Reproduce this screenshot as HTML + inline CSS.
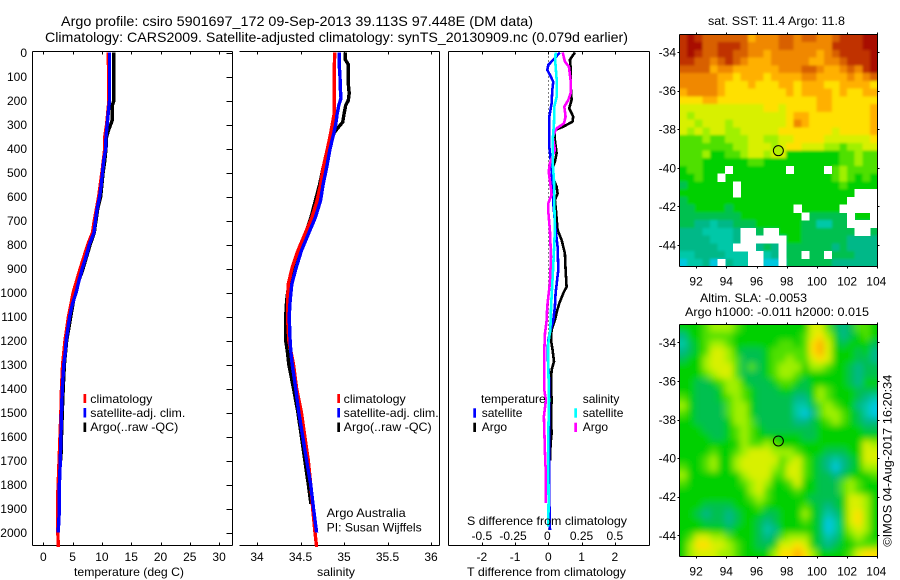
<!DOCTYPE html>
<html lang="en">
<head>
<meta charset="utf-8">
<title>Argo profile 5901697_172</title>
<style>
html,body{margin:0;padding:0;background:#fff;width:900px;height:580px;overflow:hidden}
svg{display:block}
text{font-family:"Liberation Sans",sans-serif;font-size:12px;fill:#000}
</style>
</head>
<body>
<svg id="chart" xmlns="http://www.w3.org/2000/svg" width="900" height="580" viewBox="0 0 900 580">
  <defs>
    <filter id="soften-sst" filterUnits="userSpaceOnUse" x="660" y="15" width="240" height="270"><feGaussianBlur stdDeviation="1.4"/></filter>
    <filter id="soften-sla" filterUnits="userSpaceOnUse" x="660" y="305" width="240" height="270"><feGaussianBlur stdDeviation="3.4"/></filter>
    <clipPath id="clip-sst"><rect x="679.5" y="34.5" width="198" height="232"/></clipPath>
    <clipPath id="clip-sla"><rect x="679.5" y="324.5" width="198" height="232"/></clipPath>
  </defs>
  <rect x="0" y="0" width="900" height="580" fill="#fff"/>
  <text x="61" y="26" style="font-size:14px" textLength="472" lengthAdjust="spacingAndGlyphs">Argo profile: csiro 5901697_172 09-Sep-2013 39.113S 97.448E (DM data)</text>
  <text x="45" y="42" style="font-size:14px" textLength="583" lengthAdjust="spacingAndGlyphs">Climatology: CARS2009. Satellite-adjusted climatology: synTS_20130909.nc (0.079d earlier)</text>

  <g id="temp-panel"></g>
  <g id="sal-panel"></g>
  <g id="diff-panel"></g>
  <g id="sst-map"></g>
  <g id="sla-map"></g>

  <text x="74" y="576" textLength="110" lengthAdjust="spacingAndGlyphs">temperature (deg C)</text>
  <text x="317" y="576" textLength="38" lengthAdjust="spacingAndGlyphs">salinity</text>
  <text x="467" y="576" textLength="159" lengthAdjust="spacingAndGlyphs">T difference from climatology</text>
  <text x="467" y="525" textLength="160" lengthAdjust="spacingAndGlyphs">S difference from climatology</text>

  <g>
    <rect x="83.5" y="394" width="2.7" height="9" fill="#f00"/>
    <text x="90.3" y="403" textLength="62" lengthAdjust="spacingAndGlyphs">climatology</text>
    <rect x="83.5" y="408" width="2.7" height="9.5" fill="#00f"/>
    <text x="90.3" y="417" textLength="95" lengthAdjust="spacingAndGlyphs">satellite-adj. clim.</text>
    <rect x="83.5" y="422.5" width="2.7" height="9.5" fill="#000"/>
    <text x="90.3" y="431" textLength="88" lengthAdjust="spacingAndGlyphs">Argo(..raw -QC)</text>
  </g>
  <g>
    <rect x="337.3" y="394" width="2.7" height="9" fill="#f00"/>
    <text x="343.7" y="403" textLength="62" lengthAdjust="spacingAndGlyphs">climatology</text>
    <rect x="337.3" y="408" width="2.7" height="9.5" fill="#00f"/>
    <text x="343.7" y="417" textLength="95" lengthAdjust="spacingAndGlyphs">satellite-adj. clim.</text>
    <rect x="337.3" y="422.5" width="2.7" height="9.5" fill="#000"/>
    <text x="343.7" y="431" textLength="88" lengthAdjust="spacingAndGlyphs">Argo(..raw -QC)</text>
  </g>
  <text x="326.7" y="517" textLength="79" lengthAdjust="spacingAndGlyphs">Argo Australia</text>
  <text x="326.7" y="531.7" textLength="95" lengthAdjust="spacingAndGlyphs">PI: Susan Wijffels</text>

  <g>
    <text x="481" y="403">temperature</text>
    <rect x="473.3" y="408.3" width="2.7" height="9.4" fill="#00f"/>
    <text x="481.7" y="417">satellite</text>
    <rect x="473.3" y="422.7" width="2.7" height="9.3" fill="#000"/>
    <text x="481.7" y="431">Argo</text>
    <text x="582.7" y="403">salinity</text>
    <rect x="574.3" y="408.3" width="2.7" height="9.4" fill="#0ff"/>
    <text x="582.7" y="417">satellite</text>
    <rect x="574.3" y="422.7" width="2.7" height="9.3" fill="#f0f"/>
    <text x="582.7" y="431">Argo</text>
  </g>

  <text x="708" y="25" textLength="137" lengthAdjust="spacingAndGlyphs">sat. SST: 11.4 Argo: 11.8</text>
  <text x="700" y="302" textLength="107" lengthAdjust="spacingAndGlyphs">Altim. SLA: -0.0053</text>
  <text x="685" y="316" textLength="184" lengthAdjust="spacingAndGlyphs">Argo h1000: -0.011 h2000: 0.015</text>
  <text transform="translate(891.7 546.7) rotate(-90)" x="0" y="0" textLength="172" lengthAdjust="spacingAndGlyphs">©IMOS 04-Aug-2017 16:20:34</text>
</svg>

<script>
// ---- Profile data ----
const depthTicks = [0,100,200,300,400,500,600,700,800,900,1000,1100,1200,1300,1400,1500,1600,1700,1800,1900,2000];
const tempTicks = [0,5,10,15,20,25,30];
const salTicks = [34,34.5,35,35.5,36];
const salTickLabels = ['34','34.5','35','35.5','36'];
const tDiffTicks = [-2,-1,0,1,2];
const sDiffTicks = [-0.5,-0.25,0,0.25,0.5];
const sDiffTickLabels = ['-0.5','-0.25','0','0.25','0.5'];
const lonTicks = [92,94,96,98,100,102,104];
const latTicks = [-34,-36,-38,-40,-42,-44];

const tempArgoDepth = [0,30,50,200,220,280,300,320,350,400,450,500,550,600,650,700,750,800,900,1000,1100,1200,1300,1400,1500,1600,1700];
const tempArgoValues = [12,12,12.05,12.05,11.8,11.8,11.5,11.2,10.8,10.7,10.5,10.2,10,9.8,9.3,9,8.7,8,6.8,5.4,4.7,4,3.6,3.4,3.25,3.1,3];
const tempClimDepth = [0,100,200,250,300,350,400,500,600,700,750,800,900,1000,1100,1200,1300,1400,1500,1700,1850,2000,2060];
const tempClimValues = [11.1,11.15,11.2,11,10.8,10.5,10.5,10,9.45,8.7,8.4,7.6,6.3,5.1,4.3,3.7,3.3,3.1,3,2.7,2.45,2.5,2.55];
const tempSatDepth = [0,100,200,250,300,350,400,450,500,550,600,650,700,750,800,850,900,950,1000,1050,1100,1150,1200,1250,1300,1400,1500,1600,1700,1800,1900,1950,2000];
const tempSatValues = [11.3,11.3,11.3,11.1,10.9,10.7,10.65,10.3,10.1,9.9,9.6,9.2,8.9,8.65,7.85,7.3,6.65,6.1,5.6,4.95,4.5,4.2,3.9,3.75,3.5,3.25,3.1,3,2.9,2.75,2.75,2.65,2.55];

const salArgoDepth = [0,30,50,130,170,200,220,257,290,312,333,368,410,480,550,618,688,757,826,896,965,1035,1100,1200,1250,1300,1400,1500,1600,1700,1800,1880];
const salArgoValues = [35.015,35.015,35.05,35.05,35.06,35.05,35.02,35,34.985,34.935,34.89,34.85,34.82,34.76,34.72,34.67,34.62,34.555,34.487,34.42,34.365,34.34,34.33,34.33,34.35,34.365,34.42,34.47,34.51,34.55,34.59,34.62];
const salClimDepth = [0,50,250,280,340,400,480,550,618,688,757,826,896,965,1035,1100,1200,1300,1400,1500,1600,1700,1800,1900,2000,2060];
const salClimValues = [34.893,34.89,34.89,34.875,34.845,34.81,34.76,34.73,34.69,34.63,34.55,34.47,34.405,34.36,34.35,34.35,34.365,34.42,34.455,34.51,34.55,34.59,34.617,34.64,34.667,34.685];
const salSatDepth = [0,50,100,150,190,220,260,300,340,400,480,550,618,688,757,826,896,965,1035,1100,1200,1250,1300,1400,1500,1600,1700,1800,1900,2000];
const salSatValues = [34.946,34.945,34.954,34.957,34.965,34.94,34.92,34.905,34.88,34.84,34.8,34.76,34.73,34.67,34.59,34.51,34.45,34.4,34.38,34.37,34.38,34.39,34.405,34.445,34.48,34.525,34.57,34.617,34.65,34.685];

const dtArgoDepth = [0,30,73,129,198,233,267,288,309,323,365,420,455,490,524,559,587,615,656,740,781,837,906,976,1003,1045,1073,1115,1156,1198,1240,1288,1323,1378,1448,1517,1587,1629,1700];
const dtArgoValues = [0.8,0.65,0.68,0.67,0.7,0.63,0.75,0.73,0.45,0.2,0.2,0.25,0.2,0.1,0.15,0.25,0.28,0.2,0.23,0.28,0.4,0.5,0.52,0.55,0.45,0.33,0.27,0.2,0.1,0.08,0.13,0.17,0.1,0.08,0.1,0.08,0.1,0.07,0.05];
const dtSatDepth = [0,30,52,73,94,122,156,212,267,323,392,462,531,628,740,809,906,1003,1059,1115,1156,1198,1254,1378,1517,1629,1726,1864,1990];
const dtSatValues = [0.35,0.15,0,-0.03,0.05,0.15,0.12,0.1,0.03,0.03,0.03,0.08,0.12,0.15,0.22,0.28,0.3,0.22,0.2,0.15,0.07,0,-0.02,0.03,0.03,0.02,0.02,0.03,0.05];
const dsArgoDepth = [0,38,59,115,170,198,226,267,295,316,351,406,462,497,559,593,628,663,740,851,962,1017,1059,1115,1170,1240,1406,1448,1517,1614,1698,1753,1878];
const dsArgoValues = [0.108,0.125,0.155,0.168,0.168,0.15,0.12,0.13,0.118,0.063,0.033,0.05,0.012,0.003,0.018,0.025,0,0,0.012,0.02,0.012,0,-0.008,-0.012,-0.025,-0.03,-0.03,-0.018,-0.033,-0.028,-0.023,-0.018,-0.018];
const dsSatDepth = [0,40,115,184,226,295,365,462,531,628,740,878,1017,1073,1156,1212,1309,1448,1587,1726,1864,1975];
const dsSatValues = [0.055,0.053,0.063,0.063,0.045,0.043,0.033,0.033,0.043,0.045,0.05,0.038,0.025,0.02,0.015,0,0,0.005,0,0,0.002,0];

// ---- Map data: colour level per 0.5 degree cell, -1 = no data (white) ----
const sstLevels = [
[12,13,12,11,11,11,11,11,11,9,10,10,10,11,11,10,11,11,10,10,11,12,12,12,13,13],
[12,13,13,11,11,12,12,12,11,10,10,10,10,11,11,10,10,10,10,10,12,12,12,12,13,13],
[12,13,12,11,11,12,12,11,11,10,10,9,10,10,10,10,10,10,9,10,11,12,12,12,12,13],
[12,12,11,11,10,11,12,11,10,9,9,9,10,10,10,10,10,9,9,10,10,11,12,12,12,13],
[11,11,11,11,9,10,10,9,9,9,9,9,9,10,10,10,11,11,10,9,9,10,11,10,12,13],
[10,10,10,10,10,9,9,8,9,9,9,8,9,9,9,9,10,10,9,9,9,9,10,9,10,11],
[10,10,10,10,10,9,8,8,8,9,8,8,8,9,9,8,9,9,9,8,8,9,9,9,9,8],
[9,10,10,10,10,9,8,8,8,8,8,8,8,8,9,8,9,9,9,9,8,9,8,8,9,9],
[8,8,8,9,9,8,8,8,8,8,8,8,8,8,8,8,8,8,9,9,8,8,8,8,8,8],
[7,7,7,7,7,7,7,7,7,7,7,8,8,7,8,8,8,8,9,9,8,8,8,8,8,9],
[7,6,7,7,7,7,7,7,7,7,7,7,7,7,8,9,9,8,8,8,8,8,8,8,8,9],
[7,7,6,7,7,7,6,7,7,7,7,7,7,7,8,10,9,8,8,8,8,8,8,8,8,9],
[7,6,7,6,7,7,6,6,7,7,7,7,7,8,8,8,8,8,8,8,7,8,8,8,8,9],
[5,5,5,6,5,5,6,6,6,7,7,6,6,7,7,8,8,8,8,7,7,7,7,7,7,8],
[5,5,5,5,5,5,5,6,6,7,7,7,6,7,8,8,7,7,7,6,6,5,6,6,7,7],
[5,5,5,6,4,4,5,5,6,7,7,6,7,7,4,4,4,4,4,4,4,5,5,6,5,5],
[5,5,5,4,4,4,4,4,4,5,5,4,4,4,4,4,4,4,4,4,4,5,5,6,5,5],
[4,5,5,4,4,4,-1,4,4,4,4,4,4,4,-1,4,4,4,4,-1,5,6,5,5,5,5],
[4,4,5,4,4,-1,4,4,4,4,4,4,4,4,4,4,4,4,4,4,5,6,5,4,5,4],
[3,4,4,4,4,4,4,-1,4,4,4,4,4,4,4,4,4,4,4,4,4,5,4,4,4,4],
[4,4,4,4,4,4,4,-1,4,4,4,4,4,4,4,4,4,4,4,4,4,4,4,-1,-1,-1],
[3,4,4,4,4,4,4,4,4,4,4,4,4,4,4,4,4,4,4,4,4,4,-1,-1,-1,-1],
[3,3,4,4,4,4,3,4,4,4,4,4,4,4,4,-1,4,4,4,4,4,-1,-1,-1,-1,-1],
[3,3,3,3,3,3,3,3,4,4,4,4,4,4,4,4,-1,3,3,3,3,3,-1,4,4,-1],
[3,3,2,2,1,2,2,3,3,3,4,4,4,4,4,4,3,3,1,1,3,3,-1,-1,-1,-1],
[2,2,2,1,1,1,1,2,-1,-1,3,-1,-1,4,4,4,3,3,3,3,3,3,3,-1,-1,3],
[2,2,2,2,1,1,1,2,-1,-1,-1,-1,-1,-1,4,4,3,3,3,3,3,3,2,2,2,2],
[2,2,2,2,2,1,1,-1,-1,-1,2,3,2,-1,3,3,3,3,3,3,2,3,2,2,2,2],
[1,1,2,2,2,2,1,1,1,-1,-1,1,2,-1,3,3,-1,3,3,-1,3,3,3,2,2,2],
[0,1,1,2,0,-1,2,1,1,-1,-1,0,0,-1,3,3,3,3,3,3,2,2,2,2,2,2]
];
const slaLevels = [
[4,4,4,5,6,6,6,5,4,4,4,4,4,4,4,4,4,7,7,5,3,2,3,5,5,4],
[2,4,4,5,5,5,5,4,4,4,4,4,4,4,4,4,5,7,8,6,4,2,3,4,5,4],
[1,3,4,5,6,6,5,4,4,4,4,4,4,5,5,4,5,8,9,7,4,3,4,4,4,3],
[2,3,4,5,7,7,6,4,3,3,3,4,5,5,5,5,5,8,9,7,4,4,4,3,4,2],
[3,4,4,6,7,7,6,5,3,3,3,4,5,5,6,5,5,7,8,7,4,4,4,3,3,2],
[4,4,4,6,7,7,7,5,3,5,3,4,5,6,6,6,4,6,6,5,4,4,3,2,3,3],
[4,4,4,5,6,7,7,5,3,3,3,4,5,6,6,5,4,4,4,4,4,4,3,2,3,3],
[4,4,3,3,4,5,6,6,4,3,3,3,4,5,5,4,3,4,4,4,4,4,3,2,4,4],
[4,4,3,3,3,4,6,6,5,4,3,3,3,4,4,3,3,4,6,5,4,4,4,3,3,3],
[5,4,3,3,3,4,5,6,5,4,3,3,3,3,3,2,2,4,6,5,4,4,4,3,2,1],
[6,4,3,3,3,3,5,6,6,4,3,3,3,3,3,1,1,3,5,6,5,4,4,2,1,0],
[5,4,3,3,3,3,5,6,6,4,3,3,3,3,3,1,0,2,5,6,6,5,4,3,1,0],
[4,4,3,3,3,3,4,6,6,5,3,3,3,3,3,2,2,3,4,5,6,5,4,3,2,2],
[4,4,4,3,3,3,4,5,6,5,4,3,3,3,3,3,3,3,4,4,4,4,4,4,3,3],
[4,4,4,4,3,3,4,5,6,5,4,4,4,4,4,4,3,3,4,4,4,4,4,4,4,4],
[4,4,4,4,4,4,4,4,6,5,5,6,5,4,4,4,4,4,4,4,4,4,4,4,7,6],
[4,4,4,4,5,4,4,5,6,7,7,7,6,6,6,5,4,4,4,3,3,3,4,4,7,7],
[4,4,4,5,6,4,4,6,7,7,7,7,7,5,6,7,5,4,3,2,1,2,3,4,7,7],
[5,4,4,5,6,4,4,6,7,7,7,7,6,5,7,7,5,4,3,2,0,2,3,4,6,6],
[6,4,4,4,4,4,4,4,6,7,7,7,5,5,7,7,5,4,3,3,2,3,4,4,4,5],
[5,4,4,4,4,4,4,4,5,6,7,6,4,4,5,7,4,4,3,3,3,5,6,5,4,4],
[4,4,4,4,4,4,4,4,4,6,7,5,4,4,4,5,4,4,3,3,3,5,6,5,4,4],
[4,4,4,4,4,4,4,4,4,5,6,5,4,4,4,4,4,3,3,3,3,4,7,7,6,4],
[4,4,4,3,3,3,3,4,4,4,5,4,4,4,4,4,5,4,3,2,3,4,7,7,6,4],
[4,4,3,2,3,3,2,3,4,4,4,3,3,4,4,4,6,4,3,1,2,4,7,8,6,4],
[4,4,4,3,3,3,2,3,4,4,3,2,3,4,4,4,5,4,3,0,1,4,7,8,6,4],
[4,4,4,4,4,4,3,4,4,4,3,1,2,4,4,4,4,4,3,0,1,4,6,7,6,4],
[4,5,7,7,6,6,5,4,4,4,3,2,3,5,6,6,6,4,3,1,2,4,5,6,5,4],
[4,6,8,8,7,7,6,5,4,4,3,3,4,7,7,8,7,4,3,2,3,4,4,5,5,5],
[4,6,7,7,7,6,6,5,4,4,4,4,6,8,8,9,8,6,4,4,4,4,5,7,8,8]
];
const levelPalette = ['#00c8e0','#00c8a8','#00b888','#00c050','#00d000','#50e000','#a0f000','#d8f000','#ffe000','#ffb000','#f08800','#d86000','#c03000','#a81000'];
const profileLon = 97.448;
const profileLat = -39.113;

// ---- Helpers ----
const NS = 'http://www.w3.org/2000/svg';
function make(tag, attrs, parent) {
  const el = document.createElementNS(NS, tag);
  for (const k in attrs) el.setAttribute(k, attrs[k]);
  parent.appendChild(el);
  return el;
}
function label(parent, x, y, str, anchor, name) {
  const t = make('text', {x: x, y: y, 'text-anchor': anchor}, parent);
  t.textContent = str;
  
  
  return t;
}
function hairline(parent, x1, y1, x2, y2, name) {
  const l = make('line', {x1: x1, y1: y1, x2: x2, y2: y2, stroke: '#000', 'stroke-width': 1, 'shape-rendering': 'crispEdges'}, parent);
  
  
  return l;
}
function series(parent, depths, values, xFn, color, width, name) {
  const pts = depths.map((d, i) => xFn(values[i]).toFixed(1) + ',' + yDepth(d).toFixed(1)).join(' ');
  const p = make('polyline', {points: pts, fill: 'none', stroke: color, 'stroke-width': width, 'shape-rendering': 'crispEdges', 'stroke-linejoin': 'round'}, parent);
  
  
  return p;
}

// ---- Axis functions ----
const yDepth = d => 52.5 + d * 0.24;
const xTemp = t => 43.3 + 5.86 * t;
const xSal = s => 257 + 87 * (s - 34);
const xTDiff = v => 548.3 + 33.25 * v;
const xSDiff = v => 548.3 + 133 * v;
const xLon = lon => 877.3 - (104 - lon) * 15.1;

const TOP = 51.5, BOTTOM = 545.5;

function frame(g, left, right, hasLeft) {
  hairline(g, left, TOP, right, TOP, 'top-axis-line');
  hairline(g, left, BOTTOM, right, BOTTOM, 'bottom-axis-line');
  hairline(g, right, TOP, right, BOTTOM, 'right-axis-line');
  if (hasLeft) hairline(g, left, TOP, left, BOTTOM, 'left-axis-line');
}
function xTicks(g, ticks, labels, xFn) {
  ticks.forEach((v, i) => {
    const x = Math.round(xFn(v)) + 0.5;
    hairline(g, x, TOP, x, TOP + 3, 'top-tick');
    hairline(g, x, BOTTOM, x, BOTTOM - 3, 'bottom-tick');
    label(g, xFn(v), 561, labels[i], 'middle', 'x-tick-label');
  });
}

// ---- Temperature panel ----
const tg = document.getElementById('temp-panel');
frame(tg, 32.5, 232.5, true);
xTicks(tg, tempTicks, tempTicks.map(String), xTemp);
depthTicks.forEach(d => {
  const y = Math.round(yDepth(d)) + 0.5;
  hairline(tg, 226.5, y, 232.5, y, 'depth-tick');
  label(tg, 27, yDepth(d) + 4.5, String(d), 'end', 'depth-tick-label');
});
series(tg, tempArgoDepth, tempArgoValues, xTemp, '#000', 3.4, 'temperature-argo-line');
series(tg, tempClimDepth, tempClimValues, xTemp, '#f00', 3.4, 'temperature-climatology-line');
series(tg, tempSatDepth, tempSatValues, xTemp, '#00f', 3.4, 'temperature-satellite-line');

// ---- Salinity panel ----
const sg = document.getElementById('sal-panel');
frame(sg, 239.5, 439.5, false);
xTicks(sg, salTicks, salTickLabels, xSal);
series(sg, salArgoDepth, salArgoValues, xSal, '#000', 3.4, 'salinity-argo-line');
series(sg, salClimDepth, salClimValues, xSal, '#f00', 3.4, 'salinity-climatology-line');
series(sg, salSatDepth, salSatValues, xSal, '#00f', 3.4, 'salinity-satellite-line');

// ---- Difference panel ----
const dg = document.getElementById('diff-panel');
frame(dg, 448.5, 649.5, true);
xTicks(dg, tDiffTicks, tDiffTicks.map(String), xTDiff);
sDiffTicks.forEach((v, i) => {
  label(dg, xSDiff(v) - (i === 1 ? 2 : i === 2 ? 1 : 0), 540, sDiffTickLabels[i], 'middle', 's-difference-tick-label');
});
const zeroLine = make('line', {x1: 548.5, y1: yDepth(0), x2: 548.5, y2: yDepth(2000), stroke: '#000', 'stroke-width': 1, 'stroke-dasharray': '1 3', 'shape-rendering': 'crispEdges'}, dg);


series(dg, dtArgoDepth, dtArgoValues, xTDiff, '#000', 2.6, 't-difference-argo-line');
series(dg, dtSatDepth, dtSatValues, xTDiff, '#00f', 2.6, 't-difference-satellite-line');
series(dg, dsArgoDepth, dsArgoValues, xSDiff, '#f0f', 2.6, 's-difference-argo-line');
series(dg, dsSatDepth, dsSatValues, xSDiff, '#0ff', 2.6, 's-difference-satellite-line');

// ---- Maps ----
function drawMap(g, levels, top, bottom, lat34, markerFill, cellName, filterId, clipId) {
  const left = 679.5, right = 877.5;
  const rows = levels.length, cols = levels[0].length;
  const cw = (right - left) / cols, ch = (bottom - top) / rows;
  const clipped = make('g', {'clip-path': 'url(#' + clipId + ')'}, g);
  const soft = make('g', {filter: 'url(#' + filterId + ')'}, clipped);
  levels.forEach((row, r) => {
    let lastLevel = 4;
    row.forEach((v, c) => {
      if (v >= 0) lastLevel = v;
      // Outer cells extend past the frame so the softening does not fade at the clip edge.
      const x0 = c === 0 ? left - 12 : left + c * cw;
      const x1 = c === cols - 1 ? right + 12 : left + (c + 1) * cw + 0.4;
      const y0 = r === 0 ? top - 12 : top + r * ch;
      const y1 = r === rows - 1 ? bottom + 12 : top + (r + 1) * ch + 0.4;
      const cell = make('rect', {
        x: x0.toFixed(2), y: y0.toFixed(2),
        width: (x1 - x0).toFixed(2), height: (y1 - y0).toFixed(2),
        fill: levelPalette[lastLevel], 'shape-rendering': 'crispEdges'
      }, soft);
      
      
    });
  });
  levels.forEach((row, r) => {
    row.forEach((v, c) => {
      if (v >= 0) return;
      const gap = make('rect', {
        x: (left + c * cw).toFixed(2), y: (top + r * ch).toFixed(2),
        width: (cw + 0.4).toFixed(2), height: (ch + 0.4).toFixed(2),
        fill: '#fff', 'shape-rendering': 'crispEdges'
      }, clipped);
      
      
    });
  });
  hairline(g, left, top, right, top, 'map-top-border');
  hairline(g, left, bottom, right, bottom, 'map-bottom-border');
  hairline(g, left, top, left, bottom, 'map-left-border');
  hairline(g, right, top, right, bottom, 'map-right-border');
  const yLat = lat => lat34 + (-34 - lat) * 19.3;
  lonTicks.forEach(lon => {
    const x = Math.round(xLon(lon)) + 0.5;
    hairline(g, x, top - 2, x, top, 'map-top-tick');
    hairline(g, x, bottom, x, bottom + 2, 'map-bottom-tick');
    label(g, xLon(lon) - (lon === 104 ? 1 : 0), bottom + 19, String(lon), 'middle', 'longitude-tick-label');
  });
  latTicks.forEach(lat => {
    const y = Math.round(yLat(lat)) + 0.5;
    hairline(g, left - 2, y, left, y, 'map-left-tick');
    hairline(g, right, y, right + 2, y, 'map-right-tick');
    label(g, 676, yLat(lat) + 4.5, String(lat), 'end', 'latitude-tick-label');
  });
  const marker = make('circle', {cx: xLon(profileLon), cy: yLat(profileLat), r: 5, fill: markerFill, stroke: '#000', 'stroke-width': 1}, g);
  
  
}
drawMap(document.getElementById('sst-map'), sstLevels, 34.5, 266.5, 52, '#b4f000', 'sst-cell', 'soften-sst', 'clip-sst');
drawMap(document.getElementById('sla-map'), slaLevels, 324.5, 556.5, 342.3, 'none', 'sla-cell', 'soften-sla', 'clip-sla');
</script>
</body>
</html>
